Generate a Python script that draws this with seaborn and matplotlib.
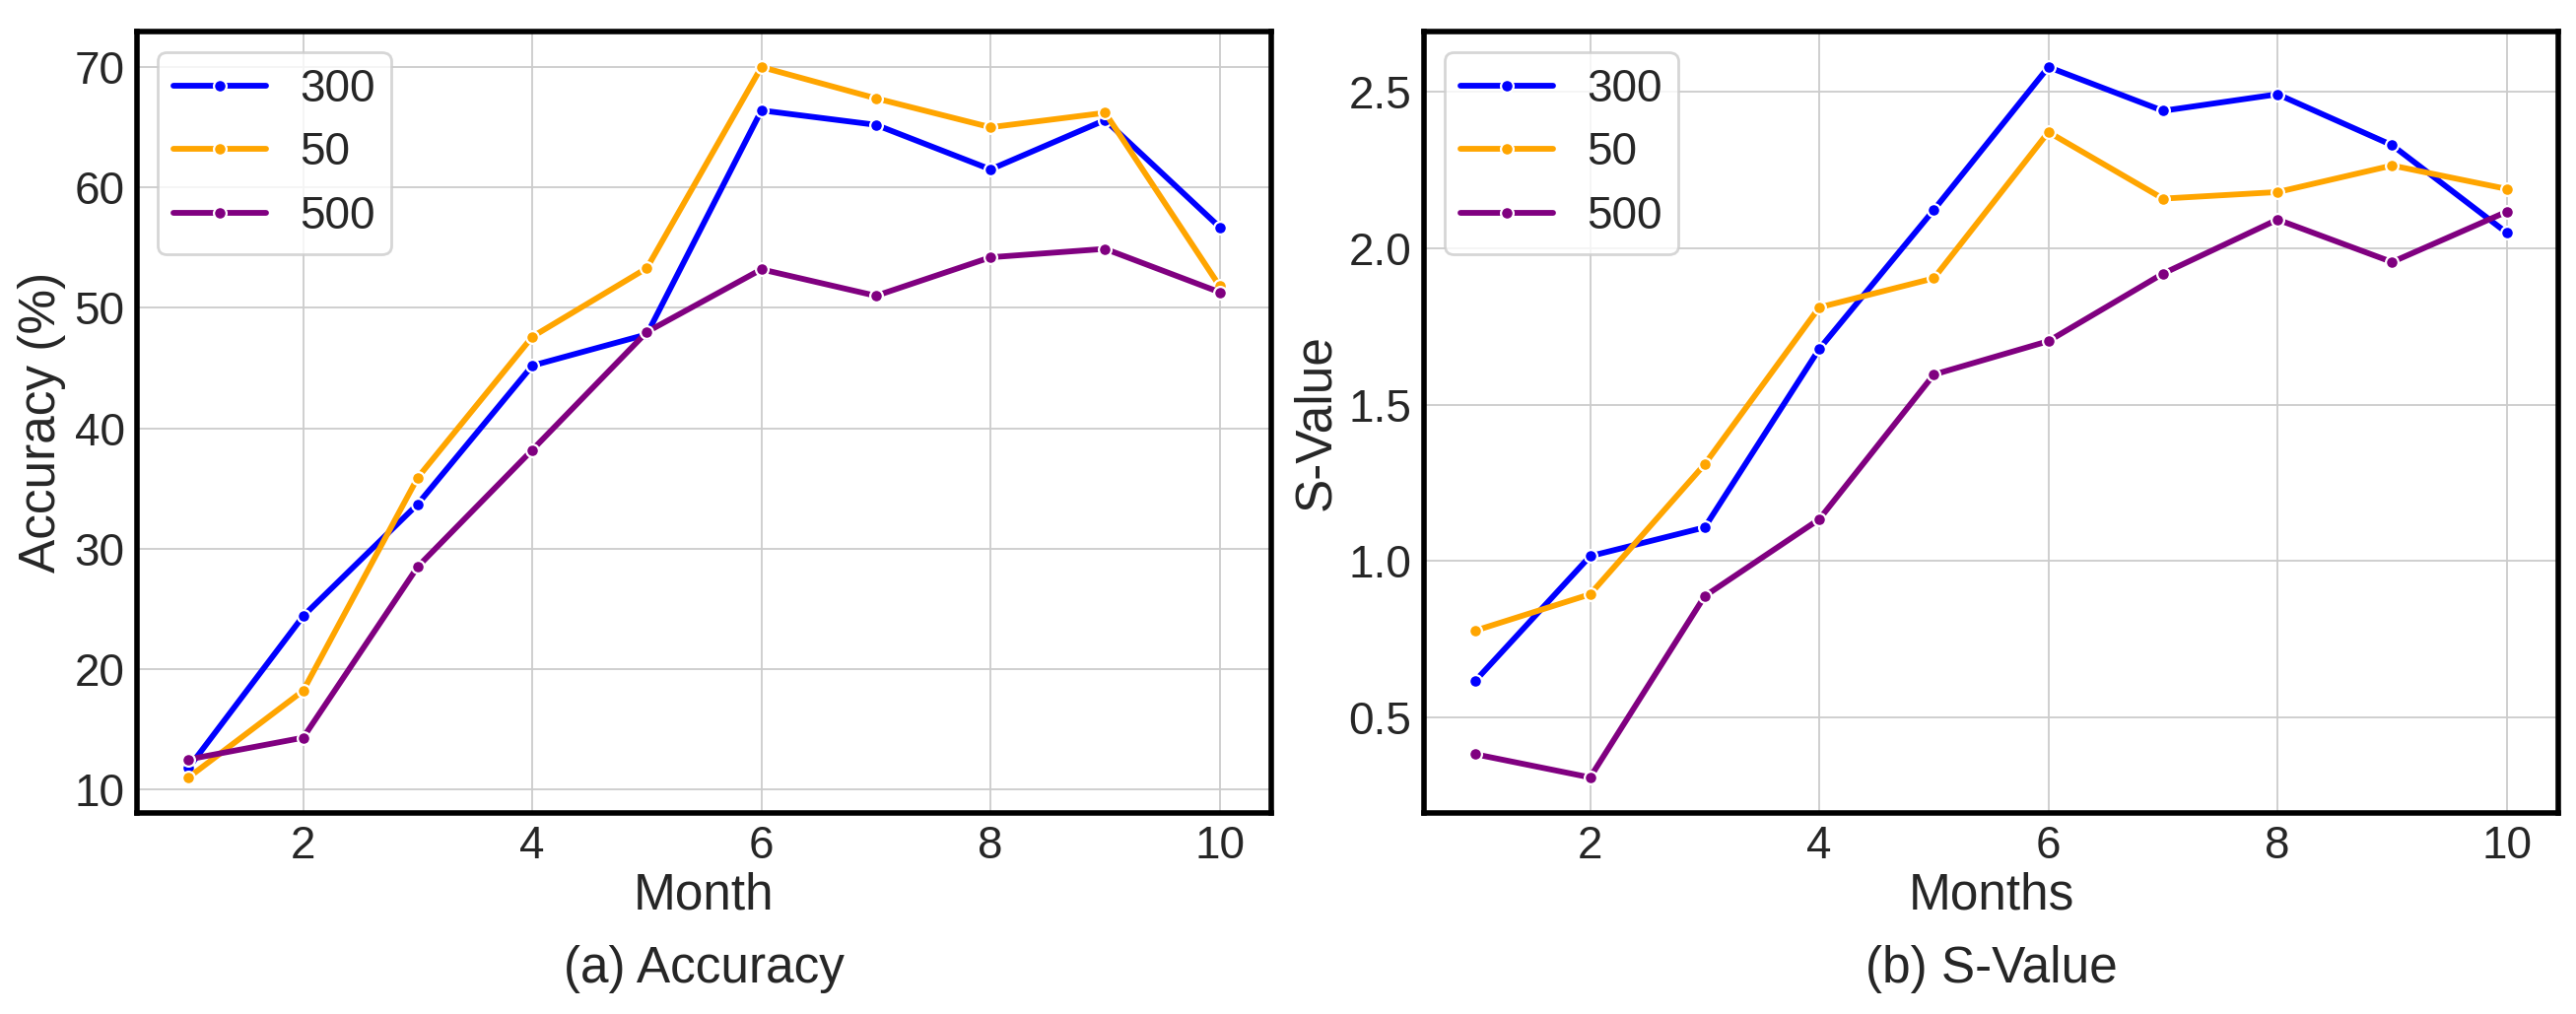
import matplotlib
matplotlib.use("Agg")
import matplotlib.pyplot as plt
import seaborn as sns
import pandas as pd

months = [1, 2, 3, 4, 5, 6, 7, 8, 9, 10]
series_names = ["300", "50", "500"]

acc_300 = [11.8, 24.4, 33.7, 45.2, 47.8, 66.4, 65.2, 61.5, 65.6, 56.7]
acc_50 = [11.0, 18.2, 35.9, 47.6, 53.3, 70.0, 67.4, 65.0, 66.2, 51.8]
acc_500 = [12.5, 14.3, 28.5, 38.2, 48.0, 53.2, 51.0, 54.2, 54.9, 51.3]

sv_300 = [0.617, 1.015, 1.107, 1.678, 2.123, 2.580, 2.440, 2.493, 2.330, 2.050]
sv_50 = [0.777, 0.893, 1.309, 1.811, 1.904, 2.372, 2.159, 2.180, 2.265, 2.190]
sv_500 = [0.381, 0.307, 0.887, 1.133, 1.596, 1.703, 1.919, 2.092, 1.956, 2.117]

colors = {"300": "#0000ff", "50": "#ffa500", "500": "#800080"}


def long_df(vals_by_name):
    rows = []
    for name, vals in vals_by_name.items():
        for m, v in zip(months, vals):
            rows.append({"Month": m, "value": v, "series": name})
    return pd.DataFrame(rows)


acc_df = long_df({"300": acc_300, "50": acc_50, "500": acc_500})
sv_df = long_df({"300": sv_300, "50": sv_50, "500": sv_500})

sns.set_style("whitegrid", {"grid.color": "#cccccc", "axes.edgecolor": "black"})
plt.rcParams["font.family"] = ["Liberation Sans", "DejaVu Sans"]

fig = plt.figure(figsize=(13.07, 5.145), dpi=200)
ax1 = fig.add_axes([0.0532, 0.1983, 0.4403, 0.7706])
ax2 = fig.add_axes([0.5528, 0.1983, 0.4403, 0.7706])

panels = [
    (ax1, acc_df, "Month", "Accuracy (%)", "(a) Accuracy"),
    (ax2, sv_df, "Months", "S-Value", "(b) S-Value"),
]

for ax, df, xl, yl, cap in panels:
    sns.lineplot(data=df, x="Month", y="value", hue="series", hue_order=series_names,
                 palette=colors, marker="o", markersize=4.6, markeredgecolor="white",
                 markeredgewidth=0.8, linewidth=2.1, ax=ax)
    ax.set_xlabel(xl, fontsize=18.5, color="#262626", labelpad=1)
    ax.set_ylabel(yl, fontsize=18.5, color="#262626", labelpad=3)
    ax.tick_params(axis="both", labelsize=16.5, colors="#262626", length=0, pad=4.5)
    ax.grid(True, color="#cccccc", linewidth=0.65)
    for sp in ax.spines.values():
        sp.set_color("black")
        sp.set_linewidth(2.0)
    ax.set_xticks([2, 4, 6, 8, 10])
    leg = ax.legend(loc="upper left", fontsize=16.5, frameon=True, fancybox=True,
                    borderpad=0.35, labelspacing=0.45, handletextpad=0.75,
                    handlelength=2.05, borderaxespad=0.45)
    leg.get_frame().set_edgecolor("#cccccc")
    leg.get_frame().set_linewidth(1.0)
    bb = ax.get_position()
    fig.text((bb.x0 + bb.x1) / 2, 0.044, cap, ha="center", va="center",
             fontsize=18.5, color="#262626")

fig.savefig("out.png", dpi=200)
